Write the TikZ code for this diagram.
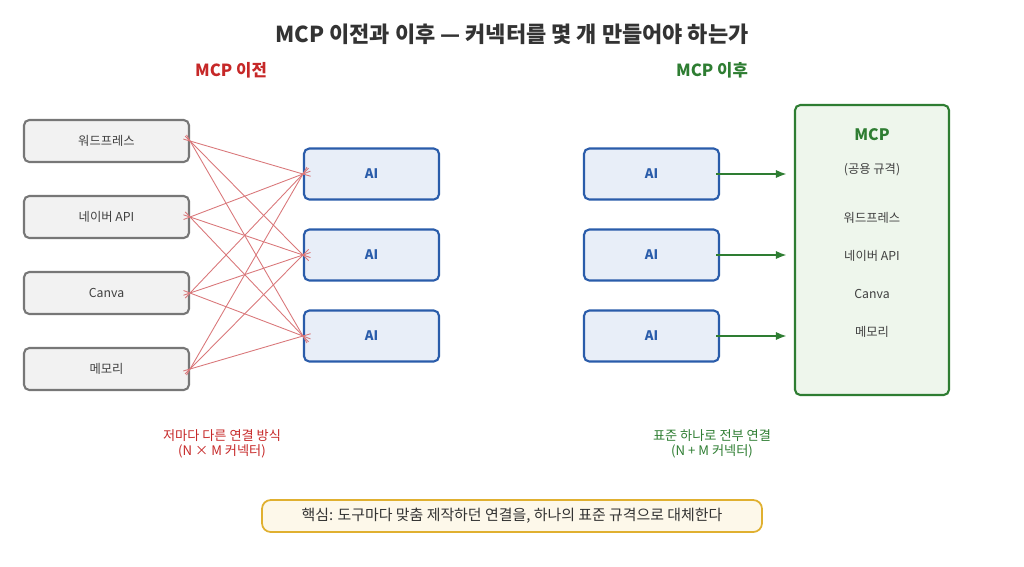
\documentclass[tikz,border=0pt]{standalone}
\usepackage{fontspec}
\setmainfont{Noto Sans CJK KR}
\usetikzlibrary{arrows.meta}
\definecolor{toolgray}{HTML}{777777}
\definecolor{toolfill}{HTML}{F2F2F2}
\definecolor{aiblue}{HTML}{2A5CAA}
\definecolor{aifill}{HTML}{E8EEF8}
\definecolor{mcpgreen}{HTML}{2E7D32}
\definecolor{mcpfill}{HTML}{EEF6EC}
\definecolor{wirered}{HTML}{D9777A}
\definecolor{capred}{HTML}{C62828}
\definecolor{keyfill}{HTML}{FDF8EA}
\definecolor{keygold}{HTML}{E0B030}
\tikzset{
  tool/.style={draw=toolgray, fill=toolfill, line width=1.2pt, rounded corners=3pt,
    minimum width=165*0.02cm, minimum height=42*0.02cm, font=\fontsize{7}{8}\selectfont, text=black!75},
  ai/.style={draw=aiblue, fill=aifill, line width=1.2pt, rounded corners=3pt,
    minimum width=135*0.02cm, minimum height=51*0.02cm, font=\fontsize{7.5}{9}\selectfont\bfseries, text=aiblue},
  wire/.style={wirered, line width=0.5pt, shorten <=-7*0.02cm, shorten >=-8*0.02cm},
  feed/.style={mcpgreen, line width=1.2pt, -{Latex[length=2.2mm]}, shorten <=-4*0.02cm, shorten >=7*0.02cm},
  item/.style={font=\fontsize{7}{8}\selectfont, text=black!75}
}
\begin{document}
\begin{tikzpicture}[x=0.02cm, y=-0.02cm]
	\useasboundingbox (0,0) rectangle (1024,566);
	\node (title) at (512,34) {\fontsize{12.5}{14}\selectfont\bfseries\color{black!80}MCP 이전과 이후 — 커넥터를 몇 개 만들어야 하는가};
	\node[text=capred, font=\fontsize{9.5}{11}\selectfont\bfseries] (before) at (231,70) {MCP 이전};
	\node[text=mcpgreen, font=\fontsize{9.5}{11}\selectfont\bfseries] (after) at (712,70) {MCP 이후};
	% before: every tool wired to every AI
	\node[tool] (t1) at (106.5,141) {워드프레스};
	\node[tool] (t2) at (106.5,217) {네이버 API};
	\node[tool] (t3) at (106.5,293) {Canva};
	\node[tool] (t4) at (106.5,369) {메모리};
	\node[ai] (a1) at (371.5,174) {AI};
	\node[ai] (a2) at (371.5,255) {AI};
	\node[ai] (a3) at (371.5,336) {AI};
	\foreach \t in {1,...,4}
	  \foreach \a in {1,2,3}
	    \draw[wire] (t\t.east) -- (a\a.west);
	\node[text=capred, align=center, font=\fontsize{7.5}{8.5}\selectfont] (beforecap) at (222,444) {저마다 다른 연결 방식\\(N × M 커넥터)};
	% after: one shared standard
	\node[draw=mcpgreen, fill=mcpfill, line width=1.2pt, rounded corners=3pt,
	  minimum width=154*0.02cm, minimum height=290*0.02cm] (mcp) at (872,250) {};
	\node[text=mcpgreen, font=\fontsize{9}{10}\selectfont\bfseries] (mcpname) at (872,135) {MCP};
	\node[item] (spec) at (872,170) {(공용 규격)};
	\node[item] (m1) at (872,218) {워드프레스};
	\node[item] (m2) at (872,256) {네이버 API};
	\node[item] (m3) at (872,294) {Canva};
	\node[item] (m4) at (872,332) {메모리};
	\foreach \i/\y in {1/174,2/255,3/336} {
	  \node[ai] (r\i) at (651.5,\y) {AI};
	  \draw[feed] (r\i.east) -- (mcp.west |- r\i);
	}
	\node[text=mcpgreen, align=center, font=\fontsize{7.5}{8.5}\selectfont] (aftercap) at (712,444) {표준 하나로 전부 연결\\(N + M 커넥터)};
	\node[draw=keygold, fill=keyfill, line width=1pt, rounded corners=5pt,
	  minimum width=500*0.02cm, minimum height=32*0.02cm, text=black!80,
	  font=\fontsize{8.5}{10}\selectfont] (key) at (512,516) {핵심: 도구마다 맞춤 제작하던 연결을, 하나의 표준 규격으로 대체한다};
\end{tikzpicture}
\end{document}
